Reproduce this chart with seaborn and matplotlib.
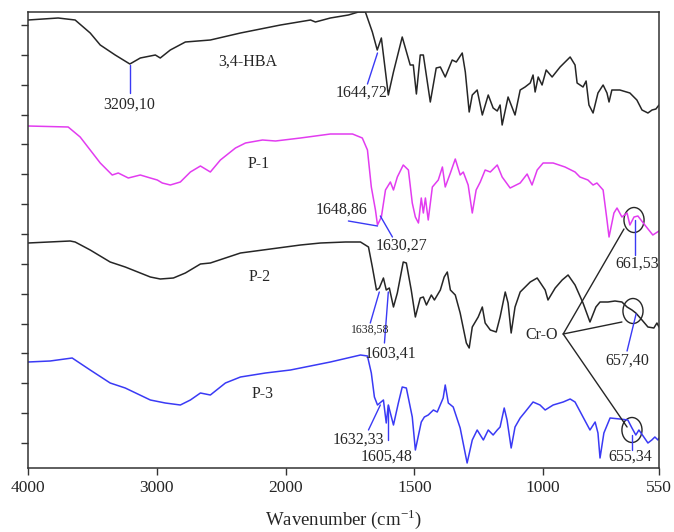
import numpy as np
import pandas as pd
import matplotlib.pyplot as plt
from matplotlib.patches import Ellipse
import seaborn as sns

# FTIR spectra
# wavenumber in cm-1, transmittance in stacked arbitrary units
hba_wn = [4000, 3766, 3634, 3517, 3439, 3323, 3209, 3128, 3011, 2973, 2895, 2778, 2584, 2350,
          2039, 1903, 1884, 1826, 1756, 1717, 1690, 1663, 1644, 1628, 1601, 1581, 1547, 1516,
          1504, 1492, 1477, 1465, 1438, 1415, 1399, 1380, 1353, 1337, 1314, 1302, 1287, 1275,
          1256, 1236, 1213, 1194, 1178, 1167, 1159, 1136, 1109, 1089, 1070, 1050, 1039, 1031,
          1019, 1004, 988, 965, 934, 895, 876, 868, 845, 833, 822, 806, 787, 767, 752, 744,
          733, 702, 663, 636, 616, 593, 577, 562, 550]
hba_t = [448, 450, 448, 435, 423, 413, 404, 410, 413, 410, 418, 426, 428, 435,
         443, 448, 446, 450, 453, 456, 456, 436, 418, 430, 373, 396, 431, 403,
         403, 374, 413, 413, 366, 400, 401, 391, 408, 406, 415, 396, 356, 373,
         378, 353, 373, 360, 357, 363, 343, 371, 353, 378, 381, 385, 393, 376,
         391, 383, 398, 391, 401, 411, 403, 385, 381, 387, 363, 355, 375, 383, 375, 366,
         378, 378, 375, 368, 358, 355, 358, 359, 363]

p1_wn = [4000, 3688, 3595, 3517, 3439, 3346, 3299, 3221, 3128, 3050, 2996, 2957, 2895, 2817,
         2739, 2661, 2584, 2506, 2389, 2311, 2179, 2078, 1942, 1826, 1740, 1702, 1682, 1667,
         1651, 1643, 1628, 1612, 1593, 1581, 1566, 1543, 1523, 1508, 1496, 1484, 1473, 1465,
         1457, 1446, 1430, 1407, 1391, 1380, 1360, 1341, 1322, 1310, 1291, 1275, 1260, 1244,
         1225, 1205, 1178, 1159, 1128, 1089, 1062, 1043, 1023, 1000, 961, 915, 876, 857,
         826, 806, 791, 767, 752, 744, 725, 713, 694, 674, 663, 647, 632, 605, 574, 550]
p1_t = [342, 341, 331, 318, 305, 293, 295, 290, 293, 290, 288, 285, 283, 286,
        296, 302, 296, 308, 320, 325, 328, 327, 330, 334, 334, 330, 318, 281,
        258, 243, 251, 278, 286, 278, 291, 303, 298, 265, 251, 245, 270, 255,
        270, 248, 281, 288, 301, 281, 295, 309, 293, 296, 283, 255, 278, 286,
        298, 296, 303, 291, 280, 285, 294, 283, 298, 305, 305, 301, 296, 291,
        288, 283, 285, 278, 248, 231, 255, 260, 251, 255, 243, 251, 252, 243, 233, 237]

p2_wn = [4000, 3673, 3634, 3517, 3362, 3245, 3050, 2973, 2871, 2778, 2661, 2584, 2467, 2350,
         2117, 1942, 1864, 1767, 1709, 1678, 1663, 1647, 1636, 1620, 1609, 1597, 1581, 1566,
         1543, 1531, 1512, 1496, 1477, 1465, 1453, 1434, 1422, 1399, 1384, 1372, 1360, 1341,
         1322, 1298, 1287, 1275, 1252, 1236, 1225, 1205, 1182, 1167, 1147, 1136, 1124, 1109,
         1089, 1050, 1023, 992, 981, 953, 926, 903, 876, 845, 818, 795, 779, 748, 721, 694,
         674, 655, 640, 616, 593, 570, 558, 550]
p2_t = [225, 227, 226, 218, 206, 201, 191, 189, 190, 195, 204, 205, 210, 215,
        219, 223, 225, 226, 226, 221, 201, 178, 180, 190, 178, 180, 161, 175,
        206, 205, 178, 151, 170, 171, 163, 173, 168, 178, 191, 196, 178, 173,
        155, 125, 120, 141, 151, 161, 145, 138, 136, 151, 176, 165, 135, 161,
        176, 186, 190, 178, 168, 180, 188, 193, 183, 165, 146, 161, 166, 166, 167, 166,
        161, 158, 155, 148, 141, 140, 145, 141]

p3_wn = [4000, 3828, 3657, 3517, 3362, 3245, 3050, 2934, 2817, 2739, 2661, 2584, 2467, 2350,
         2156, 1981, 1826, 1709, 1682, 1667, 1655, 1643, 1620, 1609, 1601, 1581, 1562, 1547,
         1531, 1508, 1496, 1473, 1461, 1446, 1426, 1411, 1388, 1380, 1368, 1349, 1322, 1295,
         1275, 1256, 1244, 1232, 1213, 1194, 1178, 1167, 1151, 1140, 1124, 1109, 1089, 1070,
         1039, 1012, 992, 961, 922, 895, 876, 845, 818, 798, 787, 779, 764, 740, 702, 671,
         655, 640, 628, 609, 593, 578, 566, 554, 550]
p3_t = [106, 107, 110, 98, 85, 80, 68, 65, 63, 68, 75, 73, 85, 91,
        95, 98, 106, 113, 112, 95, 71, 63, 68, 45, 63, 43, 65, 81,
        80, 51, 18, 46, 51, 53, 58, 56, 70, 83, 65, 61, 40, 5,
        28, 38, 33, 28, 38, 33, 38, 41, 60, 48, 20, 41, 50, 56,
        66, 63, 58, 63, 66, 69, 66, 51, 38, 46, 35, 10, 35, 50, 49, 48,
        40, 33, 38, 31, 25, 28, 31, 28, 30]

samples = ["3,4-HBA", "P-1", "P-2", "P-3"]
colors = {"3,4-HBA": "#262626", "P-1": "#e23cf0", "P-2": "#262626", "P-3": "#3a3af5"}

tick_values = [4000, 3000, 2000, 1500, 1000, 550]

frames = []
for name, wn, t in zip(samples, [hba_wn, p1_wn, p2_wn, p3_wn], [hba_t, p1_t, p2_t, p3_t]):
    frames.append(pd.DataFrame({"wavenumber": wn, "T": t, "sample": name}))
df = pd.concat(frames, ignore_index=True)

sns.set_theme(style="ticks")
plt.rcParams["font.family"] = ["Liberation Serif", "DejaVu Serif"]
plt.rcParams["mathtext.fontset"] = "custom"
plt.rcParams["mathtext.rm"] = "Liberation Serif"


# instrument-style axis: half the scale above 2000 cm-1
def fwd(x):
    x = np.asarray(x, dtype=float)
    return np.where(x > 2000, 2000 + (x - 2000) / 2, x)


def inv(y):
    y = np.asarray(y, dtype=float)
    return np.where(y > 2000, 2000 + (y - 2000) * 2, y)


fig = plt.figure(figsize=(6.74, 5.32), dpi=100)
ax = fig.add_axes([28 / 674, 64 / 532, 631 / 674, 456 / 532])
ax.set_xscale("function", functions=(fwd, inv))

sns.lineplot(data=df, x="wavenumber", y="T", hue="sample", palette=colors,
             estimator=None, units="sample", legend=False, linewidth=1.1, ax=ax)

ax.set_xlim(4000, 550)
ax.set_ylim(0, 456)
ax.set_xticks(tick_values)
ax.set_xticklabels([str(v) for v in tick_values], fontsize=12.5)
ax.set_yticks(np.linspace(25, 443, 15))
ax.set_yticklabels([])
ax.tick_params(axis="both", direction="out", length=5, width=1, color="#333333")
for sp in ax.spines.values():
    sp.set_color("#333333")
    sp.set_linewidth(1.1)
ax.set_ylabel("")
ax.set_xlabel("Wavenumber (cm$^{-1}$)", fontsize=13.5, labelpad=8)

blue = "#3a3af5"
dark = "#262626"

# sample names
ax.text(2296, 406, "3,4-HBA", ha="center", va="center", fontsize=11.5)
ax.text(2210, 304, "P-1", ha="center", va="center", fontsize=11.5)
ax.text(2202, 191, "P-2", ha="center", va="center", fontsize=11.5)
ax.text(2179, 74, "P-3", ha="center", va="center", fontsize=11.5)

# peak labels with blue leaders
ax.plot([3209, 3209], [403, 375], color=blue, lw=1)
ax.text(3215, 363, "3209,10", ha="center", va="center", fontsize=11.5)
ax.plot([1682, 1643], [384, 415], color=blue, lw=1)
ax.text(1705, 375, "1644,72", ha="center", va="center", fontsize=11.5)
ax.plot([1756, 1643], [247, 242], color=blue, lw=1)
ax.text(1783, 258, "1648,86", ha="center", va="center", fontsize=11.5)
ax.plot([1632, 1585], [252, 231], color=blue, lw=1)
ax.text(1550, 222, "1630,27", ha="center", va="center", fontsize=11.5)
ax.plot([1671, 1636], [145, 176], color=blue, lw=1)
ax.text(1671, 138, "1638,58", ha="center", va="center", fontsize=8.5)
ax.plot([1601, 1616], [176, 125], color=blue, lw=1)
ax.text(1593, 114, "1603,41", ha="center", va="center", fontsize=11.5)
ax.plot([1678, 1632], [38, 63], color=blue, lw=1)
ax.text(1717, 28, "1632,33", ha="center", va="center", fontsize=11.5)
ax.plot([1601, 1601], [28, 63], color=blue, lw=1)
ax.text(1609, 11, "1605,48", ha="center", va="center", fontsize=11.5)

# Cr-O bands
for cx, cy in [(647, 248), (651, 157), (655, 38)]:
    ax.add_patch(Ellipse((cx, cy), 78, 25, fill=False, edgecolor=dark, lw=1))
ax.plot([643, 643], [248, 213], color=blue, lw=1)
ax.text(636, 204, "661,53", ha="center", va="center", fontsize=11.5)
ax.plot([639, 674], [154, 117], color=blue, lw=1)
ax.text(674, 107, "657,40", ha="center", va="center", fontsize=11.5)
ax.plot([655, 655], [33, 18], color=blue, lw=1)
ax.text(663, 11, "655,34", ha="center", va="center", fontsize=11.5)

ax.text(1004, 133, "Cr-O", ha="center", va="center", fontsize=11.5)
for ex, ey in [(686, 239), (694, 146), (674, 41)]:
    ax.plot([922, ex], [134, ey], color=dark, lw=1)

fig.savefig("out.png", dpi=100)
